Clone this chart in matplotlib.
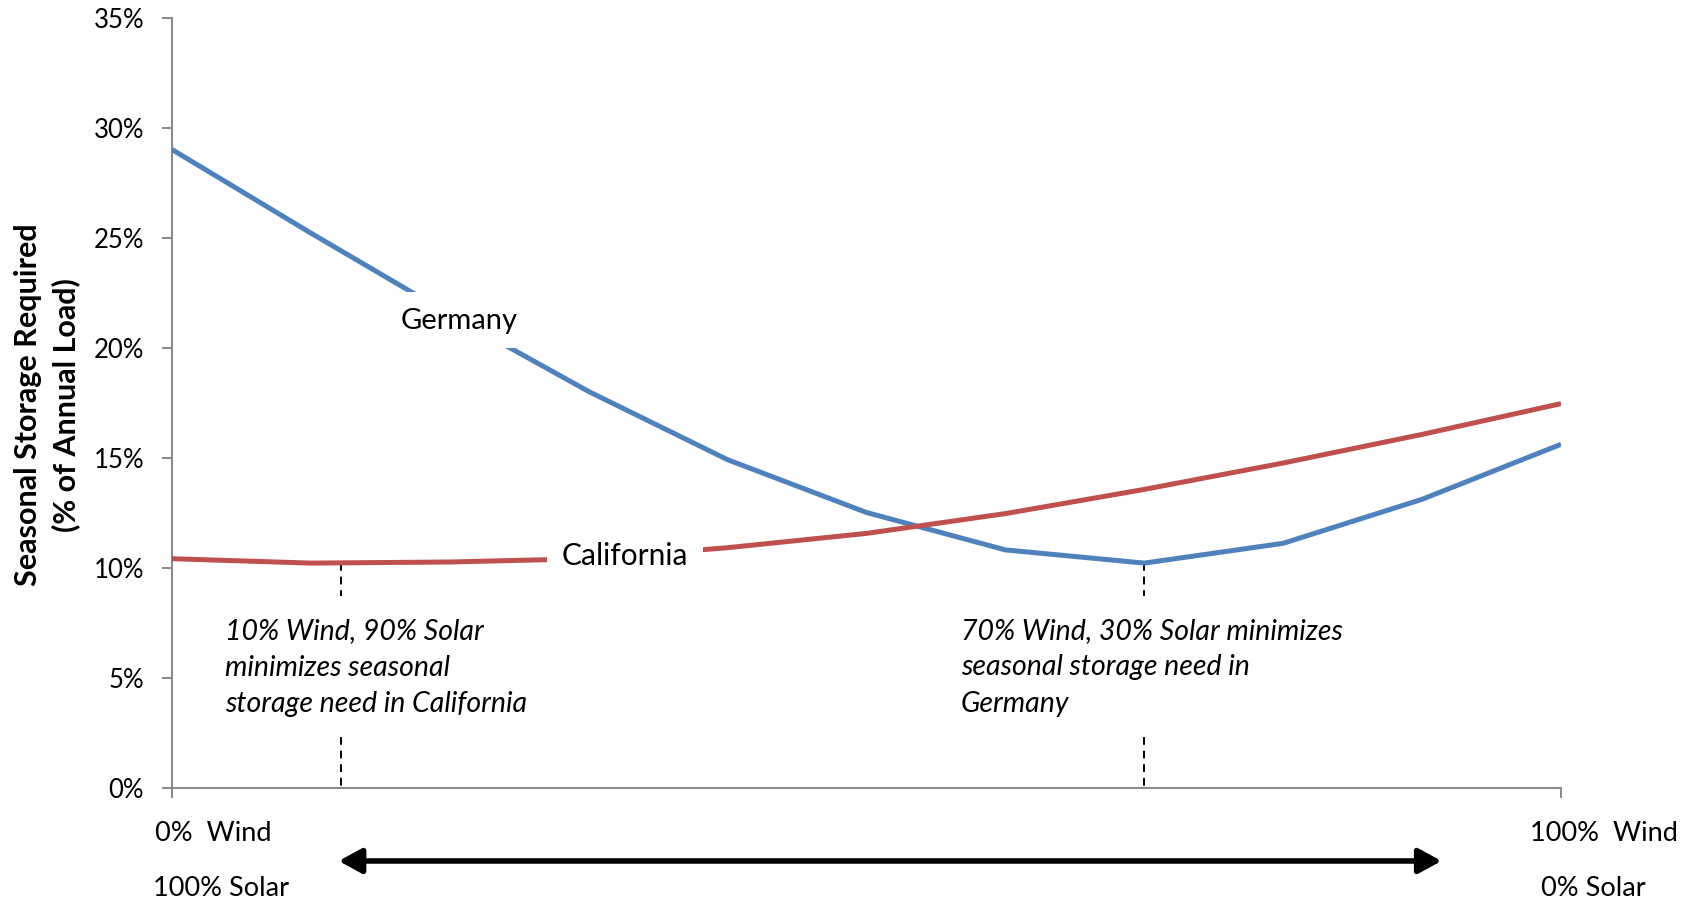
import matplotlib
matplotlib.use("Agg")
import matplotlib.pyplot as plt
import numpy as np

# ---- data ----
wind_share = [0, 10, 20, 30, 40, 50, 60, 70, 80, 90, 100]   # % wind
germany = [29.0, 25.2, 21.5, 18.0, 14.9, 12.5, 10.8, 10.2, 11.1, 13.1, 15.6]
california = [10.4, 10.2, 10.25, 10.4, 10.9, 11.55, 12.45, 13.55, 14.75, 16.05, 17.45]
y_ticks = [0, 5, 10, 15, 20, 25, 30, 35]
y_tick_labels = ["0%", "5%", "10%", "15%", "20%", "25%", "30%", "35%"]
left_labels = ["0%  Wind", "100% Solar"]
right_labels = ["100%  Wind", "0% Solar"]
note_ca = "10% Wind, 90% Solar\nminimizes seasonal\nstorage need in California"
note_de = "70% Wind, 30% Solar minimizes\nseasonal storage need in\nGermany"
y_label = "Seasonal Storage Required\n(% of Annual Load)"

plt.rcParams["font.family"] = ["Lato", "DejaVu Sans"]

fig = plt.figure(figsize=(16.93, 9.04), dpi=100)
ax = fig.add_axes([172 / 1693, 1 - 788.5 / 904, (1561 - 172) / 1693, (788.5 - 18.5) / 904])

x = np.array(wind_share) / 10.0
blue = "#4F81BD"
red = "#C0504D"
ax.plot(x, germany, color=blue, lw=3.6, solid_capstyle="butt", zorder=3)
ax.plot(x, california, color=red, lw=3.6, solid_capstyle="butt", zorder=3)

ax.set_xlim(0, 10)
ax.set_ylim(0, 35)
ax.set_yticks(y_ticks)
ax.set_yticklabels(y_tick_labels, fontsize=18.5)
ax.set_xticks([0, 10])
ax.set_xticklabels(["", ""])
for s in ["top", "right"]:
    ax.spines[s].set_visible(False)
for s in ["left", "bottom"]:
    ax.spines[s].set_color("#8c8c8c")
    ax.spines[s].set_linewidth(1.5)
ax.tick_params(axis="both", direction="out", length=7, width=1.5, color="#8c8c8c")
ax.tick_params(axis="y", pad=13)

# series labels with white boxes
ax.text(2.07, 21.25, "Germany", fontsize=21, ha="center", va="center", zorder=4,
        bbox=dict(boxstyle="square,pad=0.5", facecolor="white", edgecolor="none"))
ax.text(3.26, 10.55, "California", fontsize=21.5, ha="center", va="center", zorder=4,
        bbox=dict(boxstyle="square,pad=0.5", facecolor="white", edgecolor="none"))

# minima markers (hand-placed guide lines as in the original)
x_ca_mark = 1.22
y_ca_mark = float(np.interp(x_ca_mark, x, california))
i_de = int(np.argmin(germany))
for xm, ym in [(x_ca_mark, y_ca_mark), (x[i_de], germany[i_de])]:
    ax.plot([xm, xm], [ym, 8.7], color="black", lw=1.4, ls=(0, (4, 3)), zorder=2)
    ax.plot([xm, xm], [2.3, 0], color="black", lw=1.4, ls=(0, (4, 3)), zorder=2)

ax.text(0.38, 5.5, note_ca, fontsize=20.5, style="italic", ha="left", va="center", linespacing=1.5)
ax.text(5.68, 5.5, note_de, fontsize=20.5, style="italic", ha="left", va="center", linespacing=1.5)

# axis end labels
ax.text(0.295, -2.05, left_labels[0], fontsize=19.5, ha="center", va="center", clip_on=False)
ax.text(0.35, -4.55, left_labels[1], fontsize=19.5, ha="center", va="center", clip_on=False)
ax.text(10.31, -2.05, right_labels[0], fontsize=19.5, ha="center", va="center", clip_on=False)
ax.text(10.23, -4.55, right_labels[1], fontsize=19.5, ha="center", va="center", clip_on=False)

ax.annotate("", xy=(9.14, -3.34), xytext=(1.2, -3.34),
            arrowprops=dict(arrowstyle="<|-|>,head_length=0.55,head_width=0.3", lw=4,
                            color="black", shrinkA=0, shrinkB=0, mutation_scale=25),
            annotation_clip=False)

fig.text(47 / 1693, 1 - 405 / 904, y_label, rotation=90, fontsize=22, fontweight="bold",
         ha="center", va="center", multialignment="center", linespacing=1.4)

fig.savefig("out.png", dpi=100)
